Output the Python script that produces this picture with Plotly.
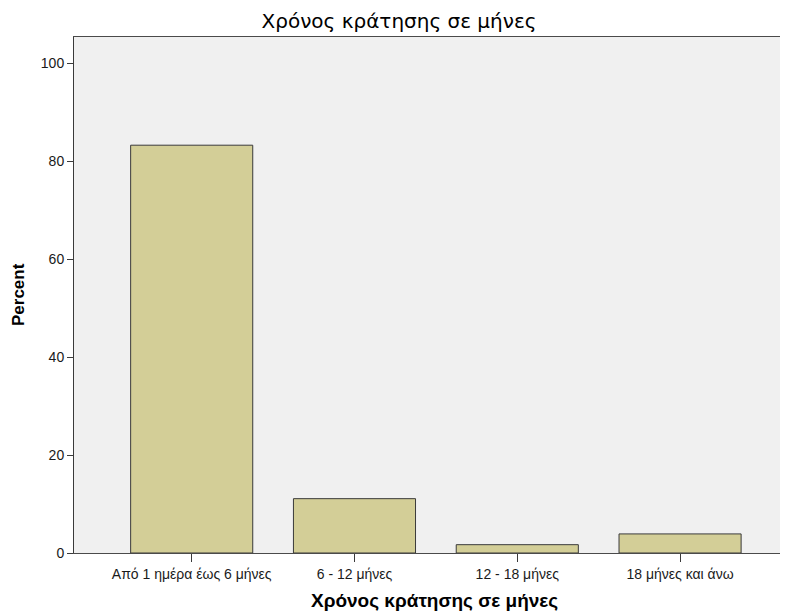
import plotly.graph_objects as go

# Χρόνος κράτησης σε μήνες — percent per category
categories = ["Από 1 ημέρα έως 6 μήνες", "6 - 12 μήνες", "12 - 18 μήνες", "18 μήνες και άνω"]
percent = [83.3, 11.1, 1.7, 3.9]
y_ticks = [0, 20, 40, 60, 80, 100]

title_text = "Χρόνος κράτησης σε μήνες"

# page has an 8px body margin, so the figure is sized / placed to compensate
W, H = 780, 605

fig = go.Figure(
    go.Bar(
        x=categories,
        y=percent,
        width=0.75,
        marker={"color": "#d3ce97", "line": {"color": "#3a3a3a", "width": 1}},
        showlegend=False,
    )
)

fig.update_layout(
    width=W,
    height=H,
    margin={"l": 66, "r": 0, "t": 29, "b": 60, "autoexpand": False},
    paper_bgcolor="white",
    plot_bgcolor="#f0f0f0",
    font={"family": "Liberation Sans, Arial, sans-serif", "color": "#1a1a1a"},
    title={
        "text": title_text,
        "x": 391 / W,
        "xanchor": "center",
        "xref": "container",
        "y": 1 - 12.7 / H,
        "yanchor": "middle",
        "font": {"family": "DejaVu Sans, sans-serif", "size": 20, "color": "#000000"},
    },
)

fig.update_xaxes(
    range=[-0.723, 3.663],
    showline=True,
    linecolor="#4a4a4a",
    linewidth=1,
    mirror=True,
    ticks="outside",
    ticklen=8,
    tickcolor="#3a3a3a",
    tickfont={"size": 14, "color": "#1a1a1a"},
    showgrid=False,
)

fig.update_yaxes(
    range=[0, 105.4],
    tickvals=y_ticks,
    showline=True,
    linecolor="#3a3a3a",
    linewidth=1,
    ticks="outside",
    ticklen=6,
    tickcolor="#3a3a3a",
    tickfont={"size": 14, "color": "#1a1a1a"},
    showgrid=False,
    zeroline=False,
)

# axis titles
fig.add_annotation(
    text="<b>" + title_text + "</b>",
    xref="paper", yref="paper",
    x=0.5056, y=-0.092,
    xanchor="center", yanchor="middle",
    showarrow=False,
    font={"size": 19, "color": "#000000"},
)
fig.add_annotation(
    text="<b>Percent</b>",
    xref="paper", yref="paper",
    x=-0.0784, y=0.5,
    xanchor="center", yanchor="middle",
    textangle=-90,
    showarrow=False,
    font={"size": 17, "color": "#000000"},
)

fig.write_html("out.html")
